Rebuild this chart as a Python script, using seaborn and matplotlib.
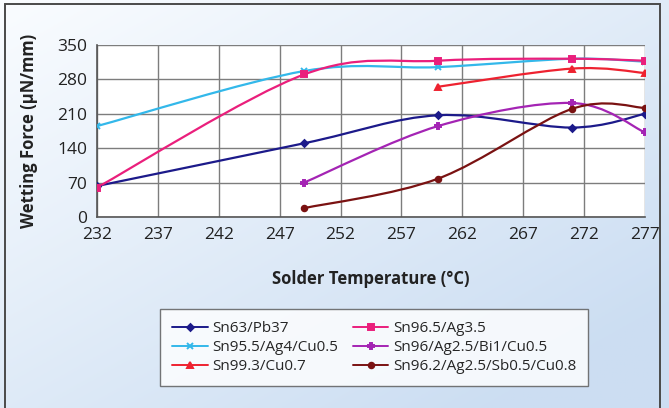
import numpy as np
import pandas as pd
import matplotlib
matplotlib.use("Agg")
import matplotlib.pyplot as plt
from matplotlib.path import Path
from matplotlib.patches import PathPatch, Rectangle
from matplotlib.lines import Line2D
import seaborn as sns

# data
x_ticks = [232, 237, 242, 247, 252, 257, 262, 267, 272, 277]
y_ticks = [0, 70, 140, 210, 280, 350]

alloys = ["Sn63/Pb37", "Sn95.5/Ag4/Cu0.5", "Sn99.3/Cu0.7",
          "Sn96.5/Ag3.5", "Sn96/Ag2.5/Bi1/Cu0.5", "Sn96.2/Ag2.5/Sb0.5/Cu0.8"]

temp_pb37 = [232, 249, 260, 271, 277]
force_pb37 = [63, 150, 207, 182, 210]
temp_ag4 = [232, 249, 260, 271, 277]
force_ag4 = [185, 297, 305, 322, 316]
temp_cu07 = [260, 271, 277]
force_cu07 = [265, 302, 293]
temp_ag35 = [232, 249, 260, 271, 277]
force_ag35 = [60, 290, 318, 322, 318]
temp_bi1 = [249, 260, 271, 277]
force_bi1 = [70, 185, 232, 172]
temp_sb05 = [249, 260, 271, 277]
force_sb05 = [18, 78, 220, 222]

temps = [temp_pb37, temp_ag4, temp_cu07, temp_ag35, temp_bi1, temp_sb05]
forces = [force_pb37, force_ag4, force_cu07, force_ag35, force_bi1, force_sb05]

colors = ["#1c1a8a", "#33b8ea", "#ee2230", "#ea1f7c", "#a424b4", "#7a1212"]
markers = ["D", "x", "^", "s", "P", "o"]
msizes = [3.5, 5, 4.5, 4.5, 4.5, 4]

rows = []
for name, t, f in zip(alloys, temps, forces):
    for a, b in zip(t, f):
        rows.append([name, a, b])
df = pd.DataFrame(rows, columns=["Alloy", "Temp", "Force"])

sns.set_style("white")
plt.rcParams["font.family"] = ["Open Sans", "DejaVu Sans"]

fig = plt.figure(figsize=(6.69, 4.08), dpi=100)

# background gradient
bg = fig.add_axes([0, 0, 1, 1], zorder=-5)
gx, gy = np.meshgrid(np.linspace(0, 1, 200), np.linspace(0, 1, 200))
g = np.clip(0.55 * gx + 0.6 * gy, 0, 1)
c0 = np.array([0.98, 0.99, 1.0])
c1 = np.array([0.80, 0.87, 0.95])
img = c0 + (c1 - c0) * g[..., None]
bg.imshow(img, aspect="auto", extent=[0, 1, 0, 1], origin="upper")
bg.axis("off")
fig.patches.append(Rectangle((0.007, -0.02), 0.98, 1.01, transform=fig.transFigure,
                             fill=False, edgecolor="#4a4a4a", linewidth=1.4))

ax = fig.add_axes([97 / 669, 1 - 217 / 408, 548 / 669, 172 / 408])
ax.set_facecolor("white")


def smooth_path(xs, ys):
    pts = np.column_stack([xs, ys]).astype(float)
    verts = [pts[0]]
    codes = [Path.MOVETO]
    n = len(pts)
    for i in range(n - 1):
        p0 = pts[i - 1] if i > 0 else pts[i]
        p1 = pts[i]
        p2 = pts[i + 1]
        p3 = pts[i + 2] if i + 2 < n else pts[i + 1]
        verts += [p1 + (p2 - p0) / 6, p2 - (p3 - p1) / 6, p2]
        codes += [Path.CURVE4] * 3
    return Path(verts, codes)


for name, c, m, ms in zip(alloys, colors, markers, msizes):
    d = df[df["Alloy"] == name]
    ax.add_patch(PathPatch(smooth_path(d["Temp"], d["Force"]), fill=False,
                           edgecolor=c, linewidth=1.6, zorder=3))
    sns.lineplot(data=d, x="Temp", y="Force", ax=ax, color=c, marker=m,
                 markersize=ms, markeredgecolor=c, markeredgewidth=1.4,
                 linestyle="", zorder=4, legend=False)

ax.set_xlim(232, 277)
ax.set_ylim(0, 350)
ax.set_xticks(x_ticks)
ax.set_yticks(y_ticks)
ax.grid(True, color="#7d7d7d", linewidth=1.0)
for s in ["top", "right"]:
    ax.spines[s].set_visible(False)
for s in ["left", "bottom"]:
    ax.spines[s].set_color("#555555")
    ax.spines[s].set_linewidth(1.2)
ax.tick_params(axis="both", direction="out", length=4, width=1, color="#555555",
               labelsize=12.5, labelcolor="#222222", pad=3)
ax.set_xlabel("Solder Temperature (°C)", fontsize=12, fontweight="bold",
              color="#222222", labelpad=20)
ax.set_ylabel("Wetting Force (µN/mm)", fontsize=12, fontweight="bold",
              color="#222222", labelpad=14)

handles = [Line2D([0], [0], color=c, marker=m, markersize=ms, markeredgewidth=1.4,
                  linewidth=1.4) for c, m, ms in zip(colors, markers, msizes)]
leg = fig.legend(handles, alloys, loc="lower left", bbox_to_anchor=(0.228, 0.035),
                 ncol=2, frameon=True, fancybox=False, fontsize=11,
                 handlelength=2.3, handletextpad=0.3, columnspacing=1.0,
                 labelspacing=0.25, borderpad=0.8)
leg.get_frame().set_edgecolor("#555555")
leg.get_frame().set_linewidth(1.0)

fig.savefig("out.png", dpi=100)
